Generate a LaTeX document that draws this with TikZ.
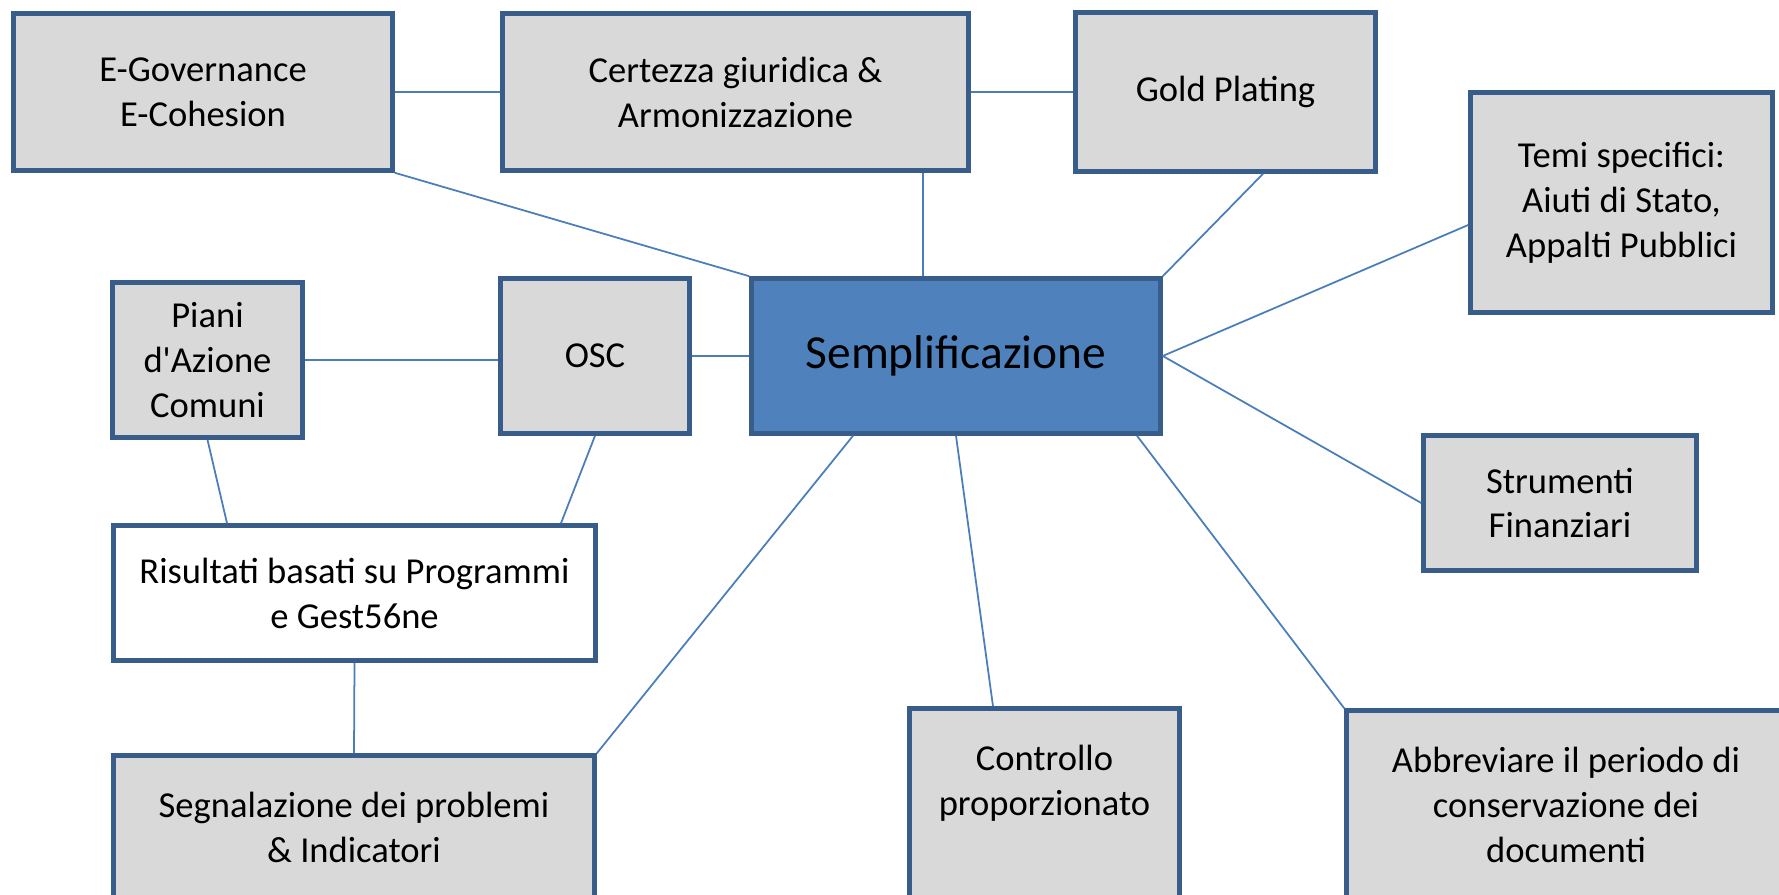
\documentclass[tikz,border=0pt]{standalone}
\usepackage{fontspec}
\setmainfont{Carlito}[Ligatures=TeXOff]
\definecolor{boxblue}{HTML}{385D8A}
\definecolor{boxgray}{HTML}{D9D9D9}
\definecolor{hubblue}{HTML}{4F81BD}
\definecolor{linkblue}{HTML}{4A7EBB}
\begin{document}
\begin{tikzpicture}[x=0.1mm,y=-0.1mm,
    topic/.style={draw=boxblue,line width=1.3pt,fill=boxgray,align=flush center,
        font=\fontsize{10.4}{12.8}\selectfont},
    hub/.style={topic,fill=hubblue,font=\fontsize{13.5}{16}\selectfont},
    whitebox/.style={topic,fill=white},
    tall/.style={topic,anchor=north,inner sep=0pt,text height=6.2mm,text depth=25mm},
    link/.style={draw=linkblue,line width=0.5pt}]

    \clip (0,0) rectangle (1779,895);

    % centre
    \node[hub,minimum width=40.9mm,minimum height=15.5mm] (sempl) at (956,356) {Semplificazione};

    % top row
    \node[topic,minimum width=37.9mm,minimum height=15.7mm] (egov) at (203,92) {E-Governance\\E-Cohesion};
    \node[topic,minimum width=46.6mm,minimum height=15.7mm] (cert) at (735.5,92) {Certezza giuridica \&\\Armonizzazione};
    \node[topic,minimum width=30mm,minimum height=15.9mm] (gold) at (1225.5,92) {Gold Plating};
    \node[topic,minimum width=30.2mm,minimum height=22mm] (temi) at (1621.5,202.5) {Temi specifici:\\Aiuti di Stato,\\Appalti Pubblici};

    % left side
    \node[topic,minimum width=19mm,minimum height=15.5mm] (piani) at (207.5,360) {Piani\\d'Azione\\Comuni};
    \node[topic,minimum width=18.9mm,minimum height=15.5mm] (osc) at (595,356) {OSC};
    \node[whitebox,minimum width=48.2mm,minimum height=13.5mm] (risul) at (354.5,593) {Risultati basati su Programmi\\e Gest56ne};

    \node[topic,minimum width=27.3mm,minimum height=13.5mm] (strum) at (1560,503) {Strumenti\\Finanziari};

    % bottom row, cut by the page edge
    \node[tall,text width=48.1mm] (segn) at (354,753.3) {Segnalazione dei problemi\\\& Indicatori};
    \node[tall,text width=27mm] (ctrl) at (1044.5,706.3) {Controllo\\proporzionato};
    \node[tall,text width=43.9mm] (abbr) at (1566,708.3) {Abbreviare il periodo di\\conservazione dei\\documenti};

    \coordinate (certdrop) at ([xshift=-3.3mm]sempl.north);

    \draw[link] (egov.east) -- (cert.west);
    \draw[link] (cert.east) -- (gold.west);
    \draw[link] (egov.south east) -- (sempl.north west);
    \draw[link] (certdrop |- cert.south) -- (certdrop);
    \draw[link] ([xshift=3.75mm]gold.south) -- (sempl.north east);
    \draw[link] ([yshift=-2.25mm]temi.west) -- (sempl.east);
    \draw[link] (strum.west) -- (sempl.east);
    \draw[link] (piani.east) -- (piani.east -| osc.west);
    \draw[link] (osc.east) -- (sempl.west);
    \draw[link] (piani.south) -- ([xshift=-12.75mm]risul.north);
    \draw[link] (osc.south) -- ([xshift=20.65mm]risul.north);
    \draw[link] (risul.south) -- (segn.north);
    \draw[link] ([xshift=-10.3mm]sempl.south) -- (segn.north east);
    \draw[link] (sempl.south) -- ([xshift=-5.15mm]ctrl.north);
    \draw[link] ([xshift=18.1mm]sempl.south) -- (abbr.north west);
\end{tikzpicture}
\end{document}
